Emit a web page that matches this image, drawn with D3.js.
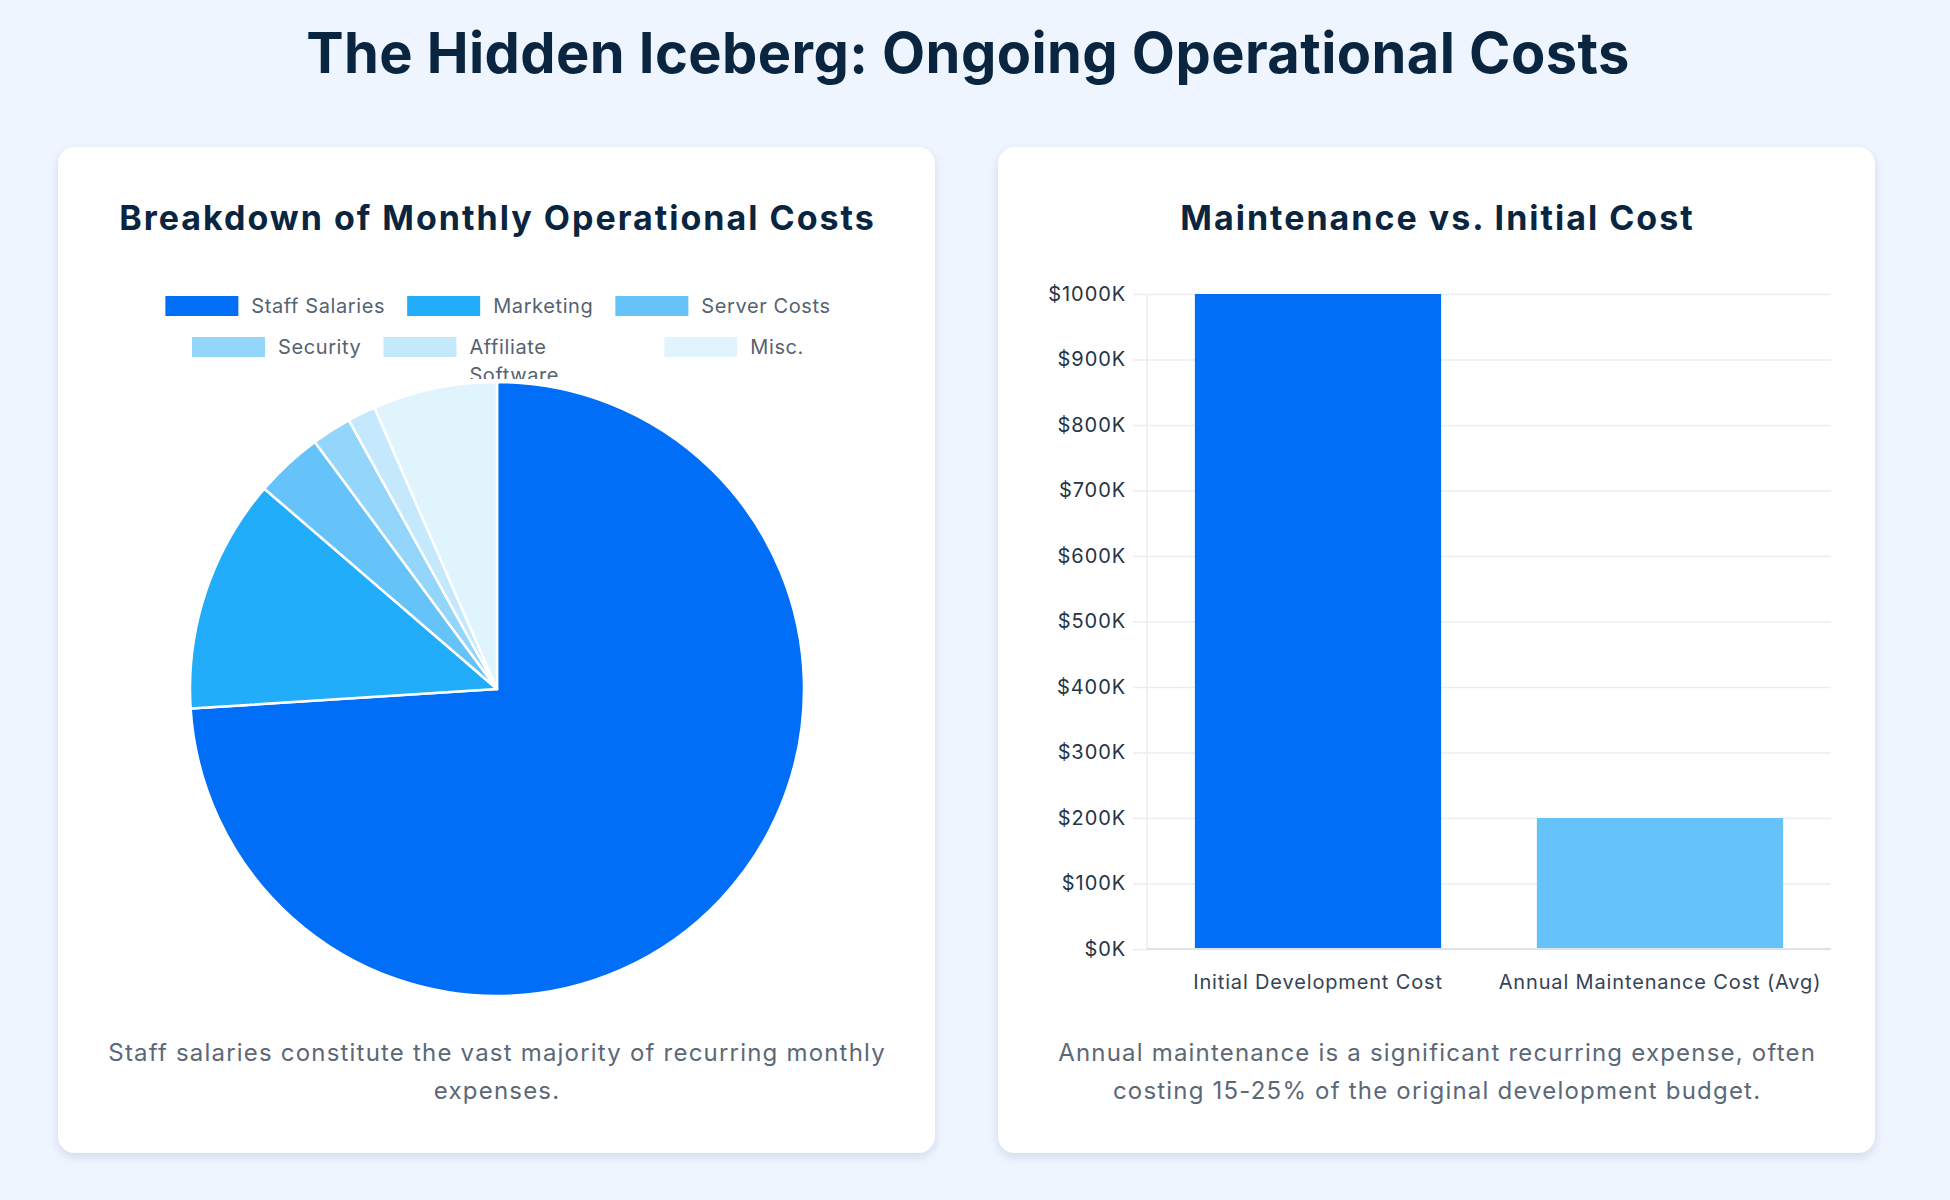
<!DOCTYPE html>
<html>
<head>
<meta charset="utf-8">
<script src="https://cdn.jsdelivr.net/npm/d3@7"></script>
<style>
  html, body { margin: 0; padding: 0; background: #eef5fe; }
  svg { display: block; font-family: Inter, "Noto Sans", sans-serif; }
</style>
</head>
<body>
<svg id="chart"></svg>
<script>
// pie data
const pieLabels = ["Staff Salaries", "Marketing", "Server Costs", "Security", "Affiliate Software", "Misc."];
const pieValues = [60000, 10000, 2900, 1700, 1200, 5300];
const pieColors = ["#006ef7", "#22adfb", "#66c3fa", "#94d6fb", "#c4e9fd", "#e0f4fe"];

// bar data
const barLabels = ["Initial Development Cost", "Annual Maintenance Cost (Avg)"];
const barValues = [1000000, 200000];
const barColors = ["#006ef7", "#66c3fa"];
const yTicks = [0, 100000, 200000, 300000, 400000, 500000, 600000, 700000, 800000, 900000, 1000000];

// captions
const leftCaption = ["Staff salaries constitute the vast majority of recurring monthly", "expenses."];
const rightCaption = ["Annual maintenance is a significant recurring expense, often", "costing 15-25% of the original development budget."];

document.addEventListener("DOMContentLoaded", function() {
    const width = 1950;
    const height = 1200;
    const svg = d3.select("#chart")
        .attr("width", width)
        .attr("height", height);

    const defs = svg.append("defs");
    const shadow = defs.append("filter").attr("id", "shadow")
        .attr("x", "-10%").attr("y", "-10%").attr("width", "120%").attr("height", "120%");
    shadow.append("feDropShadow")
        .attr("dx", 0).attr("dy", 4).attr("stdDeviation", 4)
        .attr("flood-color", "#1e3a5f").attr("flood-opacity", 0.13);

    // main title
    svg.append("text")
        .attr("x", 968).attr("y", 73)
        .attr("text-anchor", "middle")
        .attr("font-size", 56).attr("font-weight", 700)
        .attr("letter-spacing", 0.42)
        .attr("fill", "#0a2540")
        .text("The Hidden Iceberg: Ongoing Operational Costs");

    // cards
    const cards = [
        {x: 58, title: "Breakdown of Monthly Operational Costs", caption: leftCaption},
        {x: 998, title: "Maintenance vs. Initial Cost", caption: rightCaption}
    ];
    const cardW = 877, cardTop = 147, cardH = 1006;

    cards.forEach(c => {
        svg.append("rect")
            .attr("x", c.x).attr("y", cardTop)
            .attr("width", cardW).attr("height", cardH)
            .attr("rx", 17)
            .attr("fill", "#ffffff")
            .attr("filter", "url(#shadow)");

        svg.append("text")
            .attr("x", c.x + cardW / 2 + 1).attr("y", 230)
            .attr("text-anchor", "middle")
            .attr("font-size", 34).attr("font-weight", 700)
            .attr("letter-spacing", 2.0)
            .attr("fill", "#0a2540")
            .text(c.title);

        svg.append("text")
            .attr("text-anchor", "middle")
            .attr("font-size", 24)
            .attr("letter-spacing", 1.2)
            .attr("fill", "#5c6877")
            .selectAll("tspan")
            .data(c.caption)
            .join("tspan")
            .attr("x", c.x + cardW / 2 + 0.6)
            .attr("y", (d, i) => 1061 + i * 37.5)
            .text(d => d);
    });

    drawPie(svg);
    drawBars(svg);
});

// круговая диаграмма
function drawPie(svg) {
    const cx = 497, cy = 689, r = 307;

    // legend
    const legend = svg.append("g")
        .attr("font-size", 20)
        .attr("letter-spacing", 0.6)
        .attr("fill", "#556270");
    svg.select("defs").append("clipPath").attr("id", "legendClip")
        .append("rect").attr("x", 58).attr("y", 250).attr("width", 877).attr("height", 129);
    legend.attr("clip-path", "url(#legendClip)");

    const boxW = 73, boxH = 20, gapText = 13, gapItem = 22, maxW = 760;
    const measure = legend.append("text").attr("visibility", "hidden");
    const items = pieLabels.map((label, i) => {
        measure.text(label);
        const tw = measure.node().getComputedTextLength();
        return {label: label, color: pieColors[i], w: boxW + gapText + tw};
    });
    measure.remove();

    // раскладка по строкам
    const rows = [[]];
    let rowW = 0;
    items.forEach(it => {
        const add = (rows[rows.length - 1].length ? gapItem : 0) + it.w;
        if (rowW + add > maxW && rows[rows.length - 1].length) {
            rows.push([it]);
            rowW = it.w;
        } else {
            rows[rows.length - 1].push(it);
            rowW += add;
        }
    });

    rows.forEach((row, ri) => {
        const total = d3.sum(row, d => d.w) + gapItem * (row.length - 1);
        let x = cx - total / 2 + 1;
        const yc = 306 + ri * 41;
        row.forEach(it => {
            legend.append("rect")
                .attr("x", x).attr("y", yc - boxH / 2)
                .attr("width", boxW).attr("height", boxH)
                .attr("fill", it.color);
            const words = it.label === "Affiliate Software" ? ["Affiliate", "Software"] : [it.label];
            legend.append("text")
                .selectAll("tspan")
                .data(words)
                .join("tspan")
                .attr("x", x + boxW + gapText)
                .attr("y", (d, i) => yc + 7 + i * 28)
                .text(d => d);
            x += it.w + gapItem;
        });
    });

    const pie = d3.pie().sort(null).value(d => d)(pieValues);
    const arc = d3.arc().innerRadius(0).outerRadius(r);

    svg.append("g")
        .attr("transform", `translate(${cx},${cy})`)
        .selectAll("path")
        .data(pie)
        .join("path")
        .attr("d", arc)
        .attr("fill", (d, i) => pieColors[i])
        .attr("stroke", "#ffffff")
        .attr("stroke-width", 2.5)
        .attr("stroke-linejoin", "round");
}

// столбчатая диаграмма
function drawBars(svg) {
    const left = 1147, right = 1831, top = 294, bottom = 949;

    const y = d3.scaleLinear().domain([0, 1000000]).range([bottom, top]);
    const x = d3.scaleBand().domain(barLabels).range([left, right])
        .paddingInner(0.28).paddingOuter(0.14);

    const yAxis = svg.append("g")
        .attr("transform", `translate(${right},0)`)
        .call(d3.axisLeft(y)
            .tickValues(yTicks)
            .tickSize(right - left + 14)
            .tickPadding(7)
            .tickFormat(d => "$" + d / 1000 + "K"));
    yAxis.select(".domain").remove();
    yAxis.selectAll("line").attr("stroke", "#ebedf0").attr("stroke-width", 1.5);
    yAxis.selectAll("text")
        .attr("font-family", "Inter, sans-serif")
        .attr("font-size", 20)
        .attr("letter-spacing", 0.9)
        .attr("fill", "#263447");

    svg.append("line")
        .attr("x1", left).attr("x2", left)
        .attr("y1", top).attr("y2", bottom)
        .attr("stroke", "#ebedf0").attr("stroke-width", 1.5);

    svg.append("g")
        .selectAll("rect")
        .data(barValues)
        .join("rect")
        .attr("x", (d, i) => x(barLabels[i]))
        .attr("y", d => y(d))
        .attr("width", x.bandwidth())
        .attr("height", d => y(0) - y(d))
        .attr("fill", (d, i) => barColors[i]);

    svg.append("line")
        .attr("x1", left).attr("x2", right)
        .attr("y1", bottom).attr("y2", bottom)
        .attr("stroke", "#dfe2e6").attr("stroke-width", 2);

    const xAxis = svg.append("g")
        .attr("transform", `translate(0,${bottom})`)
        .call(d3.axisBottom(x).tickSize(0).tickPadding(26));
    xAxis.select(".domain").remove();
    xAxis.selectAll("text")
        .attr("font-family", "Inter, sans-serif")
        .attr("font-size", 20)
        .attr("letter-spacing", 0.85)
        .attr("fill", "#354355");
}
</script>
</body>
</html>
